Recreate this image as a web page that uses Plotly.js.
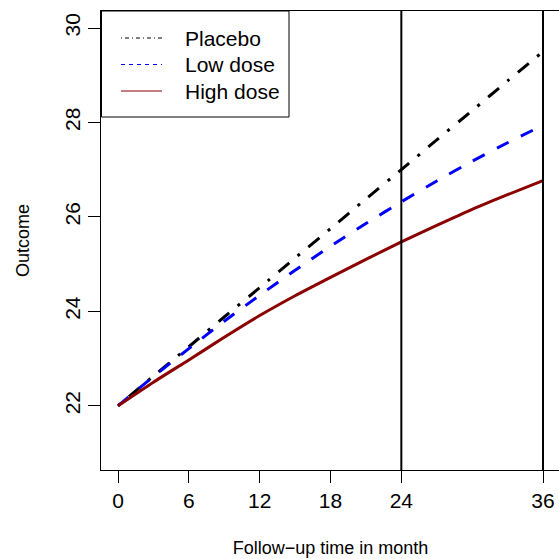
<!DOCTYPE html>
<html>
<head>
<meta charset="utf-8">
<script src="https://cdn.plot.ly/plotly-3.0.1.min.js"></script>
<style>html,body{margin:0;padding:0;overflow:hidden;background:#fff;}</style>
</head>
<body>
<div id="chart"></div>
<script>
// Data
const months = [0, 3, 6, 9, 12, 15, 18, 21, 24, 27, 30, 33, 36];
const placebo = [22.00, 22.63, 23.25, 23.88, 24.50, 25.13, 25.75, 26.38, 27.00, 27.63, 28.25, 28.88, 29.50];
const lowDose = [22.00, 22.62, 23.21, 23.79, 24.34, 24.87, 25.38, 25.86, 26.32, 26.76, 27.18, 27.57, 27.94];
const highDose = [22.00, 22.50, 22.97, 23.45, 23.91, 24.33, 24.72, 25.10, 25.47, 25.82, 26.16, 26.47, 26.77];
const seriesNames = ["Placebo", "Low dose", "High dose"];
const xTicks = [0, 6, 12, 18, 24, 36];
const yTicks = [22, 24, 26, 28, 30];
const refLines = [24, 36];

const FONT = "Liberation Sans, Arial, Helvetica, sans-serif";
const colors = ["#000000", "#0000ff", "#8b0000"];
const dashes = ["3px,11px,14px,11px", "13.5px,13.5px", "solid"];
const legendDashes = ["1px,3px,4px,3px", "4px,4px", "solid"];
const allY = [placebo, lowDose, highDose];

// plot area geometry (pixels)
const W = 561, H = 559, ML = 101, MR = 1, MT = 11, MB = 89;
const PW = W - ML - MR, PH = H - MT - MB;
const px = v => (v - ML) / PW;
const py = v => (MT + PH - v) / PH;

const traces = allY.map((ys, i) => ({
  x: months, y: ys, type: "scatter", mode: "lines",
  line: {color: colors[i], width: 3, dash: dashes[i], shape: "spline", smoothing: 0.6},
  name: seriesNames[i], showlegend: false, hoverinfo: "skip"
}));

const shapes = refLines.map(v => ({
  type: "line", xref: "x", yref: "paper", x0: v, x1: v, y0: 0, y1: 1,
  line: {color: "#000", width: 2}
}));

// legend box, drawn in R style
shapes.push({
  type: "rect", xref: "paper", yref: "paper", layer: "above",
  x0: px(101.5), x1: px(289), y0: py(117), y1: py(11),
  fillcolor: "#fff", line: {color: "#000", width: 1}
});
const legendRows = [38, 64.5, 91];
const annotations = [];
seriesNames.forEach((n, i) => {
  shapes.push({
    type: "line", xref: "paper", yref: "paper", layer: "above",
    x0: px(121), x1: px(162), y0: py(legendRows[i]), y1: py(legendRows[i]),
    line: {color: colors[i], width: 1.2, dash: legendDashes[i]}
  });
  annotations.push({
    xref: "paper", yref: "paper", x: px(183), y: py(legendRows[i]),
    xanchor: "left", yanchor: "middle", text: n, showarrow: false,
    font: {family: FONT, size: 21, color: "#000"}
  });
});

const layout = {
  width: W, height: H,
  margin: {l: ML, r: MR, t: MT, b: MB},
  paper_bgcolor: "#fff", plot_bgcolor: "#fff",
  font: {family: FONT, color: "#000", size: 21},
  showlegend: false,
  xaxis: {
    range: [-1.44, 37.44], tickvals: xTicks, ticktext: xTicks.map(String),
    showgrid: false, zeroline: false, showline: true, mirror: true,
    linecolor: "#000", linewidth: 1,
    ticks: "outside", ticklen: 12, tickwidth: 1, tickcolor: "#000",
    tickfont: {family: FONT, size: 21, color: "#000"},
    title: {text: "Follow\u2212up time in month", font: {family: FONT, size: 18, color: "#000"}, standoff: 30}
  },
  yaxis: {
    range: [20.64, 30.36], tickvals: yTicks, ticktext: yTicks.map(String),
    showgrid: false, zeroline: false, showline: true, mirror: true,
    linecolor: "#000", linewidth: 1,
    ticks: "outside", ticklen: 12, tickwidth: 1, tickcolor: "#000",
    tickangle: -90,
    tickfont: {family: FONT, size: 21, color: "#000"},
    title: {text: "Outcome", font: {family: FONT, size: 18, color: "#000"}, standoff: 26}
  },
  shapes: shapes,
  annotations: annotations
};

Plotly.newPlot("chart", traces, layout, {displayModeBar: false, staticPlot: true});
</script>
</body>
</html>
